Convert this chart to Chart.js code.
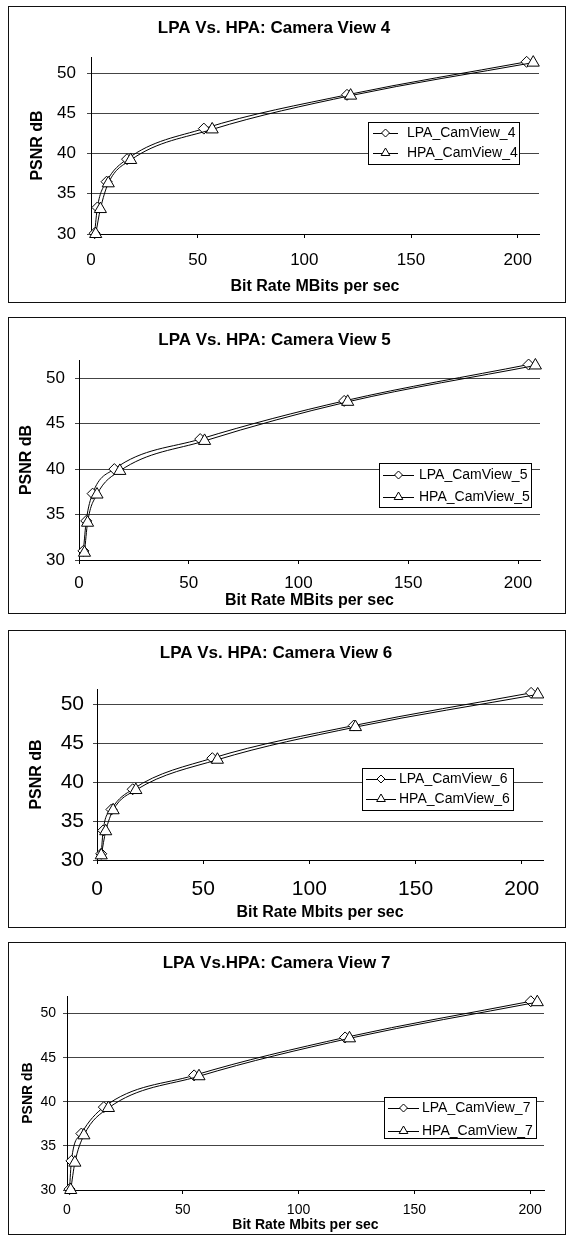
<!DOCTYPE html>
<html>
<head>
<meta charset="utf-8">
<script src="https://cdn.jsdelivr.net/npm/chart.js@4.4.0/dist/chart.umd.min.js"></script>
<style>
  body { margin: 0; background: #fff; width: 566px; height: 1237px; }
  .panel { position: absolute; left: 8px; width: 556px; border: 1px solid #111; background: #fff; }
  .panel canvas { display: block; }
</style>
</head>
<body>
<div class="panel" style="top:6px;height:295px"><canvas id="cam4"></canvas></div>
<div class="panel" style="top:317px;height:295px"><canvas id="cam5"></canvas></div>
<div class="panel" style="top:630px;height:296px"><canvas id="cam6"></canvas></div>
<div class="panel" style="top:942px;height:291px"><canvas id="cam7"></canvas></div>
<script>
const lpa4X = [1.7, 3.0, 7.3, 16.9, 52.9, 120.0, 204.2];
const lpa4Y = [30.1, 33.3, 36.5, 39.3, 43.1, 47.3, 51.4];
const hpa4X = [2.2, 4.4, 8.1, 18.6, 56.8, 121.7, 207.3];
const hpa4Y = [30.0, 33.1, 36.3, 39.2, 43.0, 47.2, 51.3];

const lpa5X = [2.0, 3.3, 6.2, 16.1, 55.2, 120.8, 204.8];
const lpa5Y = [31.0, 34.3, 37.3, 40.0, 43.3, 47.5, 51.5];
const hpa5X = [2.5, 3.9, 8.2, 18.6, 57.2, 122.4, 207.9];
const hpa5Y = [30.8, 34.1, 37.2, 39.8, 43.1, 47.4, 51.4];

const lpa6X = [2.0, 2.9, 6.8, 16.8, 54.3, 120.9, 204.4];
const lpa6Y = [30.8, 33.8, 36.5, 39.1, 43.1, 47.3, 51.5];
const hpa6X = [2.0, 4.1, 7.6, 18.3, 56.7, 121.7, 207.5];
const hpa6Y = [30.6, 33.7, 36.4, 39.0, 42.9, 47.1, 51.3];

const lpa7X = [1.1, 1.9, 6.2, 15.9, 54.9, 120.1, 200.3];
const lpa7Y = [30.1, 33.3, 36.4, 39.4, 43.0, 47.3, 51.4];
const hpa7X = [1.6, 3.4, 7.3, 17.9, 57.0, 122.0, 203.1];
const hpa7Y = [30.0, 33.1, 36.2, 39.3, 42.9, 47.2, 51.3];

const titles = ['LPA Vs. HPA: Camera View 4', 'LPA Vs. HPA: Camera View 5', 'LPA Vs. HPA: Camera View 6', 'LPA Vs.HPA: Camera View 7'];
const xTitles = ['Bit Rate MBits per sec', 'Bit Rate MBits per sec', 'Bit Rate Mbits per sec', 'Bit Rate Mbits per sec'];
const yTitle = 'PSNR dB';
const xMaxes = [210, 210, 210, 206];

Chart.defaults.font.family = '"Liberation Sans", Arial, sans-serif';
Chart.defaults.color = '#000';

function pts(xs, ys) {
  return xs.map((x, i) => ({ x: x, y: ys[i] }));
}

// small boxed legend drawn inside the plot
const boxLegend = {
  id: 'boxLegend',
  afterDatasetsDraw(chart, args, opts) {
    const ctx = chart.ctx;
    ctx.save();
    ctx.fillStyle = '#fff';
    ctx.strokeStyle = '#000';
    ctx.lineWidth = 1;
    ctx.fillRect(opts.left, opts.top, opts.width, opts.height);
    ctx.strokeRect(opts.left + 0.5, opts.top + 0.5, opts.width, opts.height);
    ctx.font = '14px "Liberation Sans", Arial, sans-serif';
    ctx.textBaseline = 'middle';
    chart.data.datasets.forEach((ds, i) => {
      const y = opts.rows[i];
      const mx = (opts.x0 + opts.x1) / 2;
      ctx.beginPath();
      ctx.moveTo(opts.x0, y + 0.5);
      ctx.lineTo(opts.x1, y + 0.5);
      ctx.stroke();
      ctx.beginPath();
      if (ds.pointStyle === 'rectRot') {
        const r = 4;
        ctx.moveTo(mx, y - r); ctx.lineTo(mx + r, y); ctx.lineTo(mx, y + r); ctx.lineTo(mx - r, y);
      } else {
        const r = 5;
        ctx.moveTo(mx, y - r); ctx.lineTo(mx + r * 0.87, y + r * 0.5); ctx.lineTo(mx - r * 0.87, y + r * 0.5);
      }
      ctx.closePath();
      ctx.fill();
      ctx.stroke();
      ctx.fillStyle = '#000';
      ctx.fillText(ds.label, opts.textX, y);
      ctx.fillStyle = '#fff';
    });
    ctx.restore();
  }
};

// geometry of each panel (canvas coordinates)
const layouts = [
  { h: 295, yw: 82, xh: 68, pr: 26, titleSize: 17, tPad: [12.5, 20.5], tick: 17, xPad: 11.8, yPad: 11,
    axTitle: 16, yTitlePad: 19.4, xTitlePad: 5.4,
    legend: { left: 359, top: 115, width: 151, height: 42, rows: [126, 146], x0: 364, x1: 389, textX: 398 } },
  { h: 295, yw: 70, xh: 53, pr: 25, titleSize: 17, tPad: [13.5, 11.5], tick: 17, xPad: 9.6, yPad: 10,
    axTitle: 16, yTitlePad: 8.4, xTitlePad: 3.2,
    legend: { left: 370, top: 145, width: 152, height: 44, rows: [157, 179], x0: 374, x1: 405, textX: 410 } },
  { h: 296, yw: 88, xh: 67, pr: 22, titleSize: 17, tPad: [13.5, 27.5], tick: 21, xPad: 12.4, yPad: 9,
    axTitle: 16, yTitlePad: 18.4, xTitlePad: 4.4,
    legend: { left: 353, top: 137, width: 151, height: 42, rows: [148, 168], x0: 357, x1: 387, textX: 390 } },
  { h: 291, yw: 58, xh: 44, pr: 21, titleSize: 17, tPad: [11.5, 24.5], tick: 14, xPad: 7.6, yPad: 7,
    axTitle: 14, yTitlePad: 10.6, xTitlePad: 0.6,
    legend: { left: 375, top: 154, width: 152, height: 41, rows: [165, 188], x0: 379, x1: 410, textX: 413 } }
];

const series = [
  [lpa4X, lpa4Y, hpa4X, hpa4Y],
  [lpa5X, lpa5Y, hpa5X, hpa5Y],
  [lpa6X, lpa6Y, hpa6X, hpa6Y],
  [lpa7X, lpa7Y, hpa7X, hpa7Y]
];
const ids = ['cam4', 'cam5', 'cam6', 'cam7'];
const camNo = [4, 5, 6, 7];

ids.forEach((id, k) => {
  const g = layouts[k];
  const s = series[k];
  const canvas = document.getElementById(id);
  canvas.width = 556;
  canvas.height = g.h;
  new Chart(canvas, {
    type: 'scatter',
    data: {
      datasets: [
        {
          label: 'LPA_CamView_' + camNo[k],
          data: pts(s[0], s[1]),
          showLine: true,
          borderColor: '#000',
          borderWidth: 1,
          cubicInterpolationMode: 'monotone',
          pointStyle: 'rectRot',
          pointRadius: 5.5,
          pointBackgroundColor: '#fff',
          pointBorderColor: '#000',
          pointBorderWidth: 1,
          clip: false,
          order: 1
        },
        {
          label: 'HPA_CamView_' + camNo[k],
          data: pts(s[2], s[3]),
          showLine: true,
          borderColor: '#000',
          borderWidth: 1,
          cubicInterpolationMode: 'monotone',
          pointStyle: 'triangle',
          pointRadius: 7,
          pointBackgroundColor: '#fff',
          pointBorderColor: '#000',
          pointBorderWidth: 1,
          clip: false,
          order: 0
        }
      ]
    },
    options: {
      responsive: false,
      animation: false,
      events: [],
      layout: { autoPadding: false, padding: { left: 0, right: g.pr, top: 0, bottom: 0 } },
      plugins: {
        legend: { display: false },
        tooltip: { enabled: false },
        title: {
          display: true,
          text: titles[k],
          font: { size: g.titleSize, weight: 'bold', lineHeight: 1 },
          padding: { top: g.tPad[0], bottom: g.tPad[1] },
          color: '#000'
        },
        boxLegend: g.legend
      },
      scales: {
        x: {
          type: 'linear',
          min: 0,
          max: xMaxes[k],
          afterFit: (sc) => { sc.height = g.xh; },
          ticks: { stepSize: 50, includeBounds: false, font: { size: g.tick }, padding: g.xPad, maxRotation: 0 },
          grid: { drawOnChartArea: false, drawTicks: true, tickLength: 4, color: '#000' },
          border: { color: '#000', width: 1 },
          title: {
            display: true,
            text: xTitles[k],
            font: { size: g.axTitle, weight: 'bold', lineHeight: 1.2 },
            padding: { top: 0, bottom: g.xTitlePad }
          }
        },
        y: {
          type: 'linear',
          min: 30,
          max: 52,
          afterFit: (sc) => { sc.width = g.yw; },
          ticks: { stepSize: 5, includeBounds: false, font: { size: g.tick }, padding: g.yPad },
          grid: { drawTicks: true, tickLength: 4, color: '#444', lineWidth: 1 },
          border: { color: '#000', width: 1 },
          title: {
            display: true,
            text: yTitle,
            font: { size: g.axTitle, weight: 'bold', lineHeight: 1.2 },
            padding: { top: g.yTitlePad, bottom: 0 }
          }
        }
      }
    },
    plugins: [boxLegend]
  });
});
</script>
</body>
</html>
